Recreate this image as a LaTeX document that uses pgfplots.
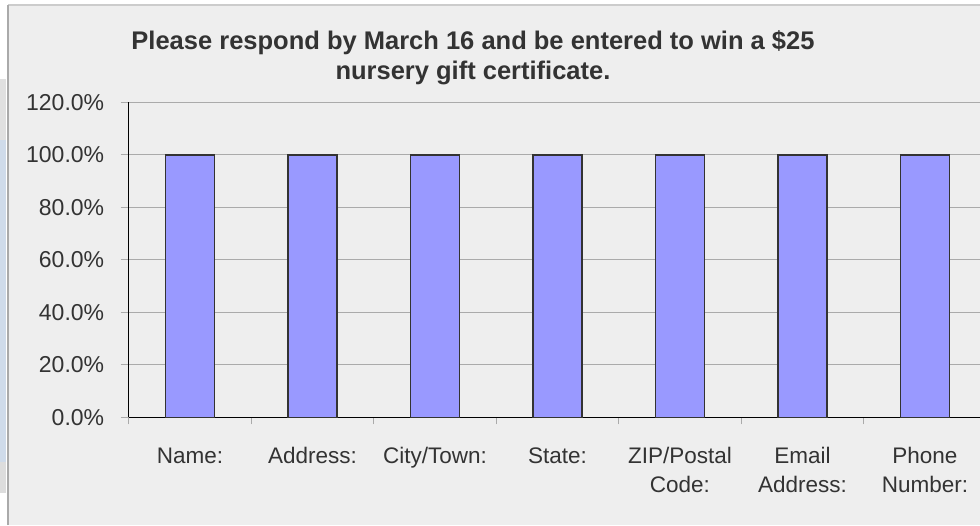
\documentclass[border=0pt]{standalone}
\usepackage{pgfplots}
\pgfplotsset{compat=1.18}
\usepackage{fontspec}
\setmainfont{Liberation Sans}
\definecolor{chartbg}{HTML}{EEEEEE}
\definecolor{barfill}{HTML}{9999FF}
\definecolor{barline}{HTML}{333333}
\definecolor{gridc}{HTML}{AAAAAA}
\definecolor{txt}{HTML}{333333}
\definecolor{stripa}{HTML}{E0E0E0}
\definecolor{stripb}{HTML}{CFDBEA}
\definecolor{stripc}{HTML}{DDDDDD}
\definecolor{bordtop}{HTML}{CCCCCC}
\definecolor{bordleft}{HTML}{AAAAAA}
\begin{document}
\begin{tikzpicture}[x=1pt,y=1pt]
\useasboundingbox (0,0) rectangle (980,525);
\clip (0,0) rectangle (980,525);
\fill[white] (0,0) rectangle (980,525);
% left strip
\fill[stripa] (0,525-140) rectangle (6,525-79);
\fill[stripb] (0,525-462) rectangle (6,525-140);
\fill[stripc] (0,525-493) rectangle (6,525-462);
% chart area
\fill[chartbg] (8,0) rectangle (985,520);
\draw[bordtop,line width=1.5] (8,520) -- (985,520);
\draw[bordleft,line width=1.5] (8,0) -- (8,520);
\begin{axis}[
  at={(128.7pt,107.7pt)}, anchor=south west,
  scale only axis, width=857.5pt, height=314.8pt,
  xmin=-0.5, xmax=6.5, ymin=0, ymax=120,
  axis lines=left, axis line style={-, black, line width=1pt},
  xtick={0,...,6},
  xticklabels={\strut Name:, \strut Address:, \strut City/Town:, \strut State:, {\strut ZIP/Postal\\Code:}, {\strut Email\\Address:}, {\strut Phone\\Number:}},
  minor xtick={-0.5,0.5,...,6.5},
  major x tick style={draw=none},
  minor x tick style={gridc, line width=1pt},
  minor tick length=7pt,
  ytick={0,20,...,120},
  major tick length=8pt,
  tick align=outside,
  y tick style={gridc, line width=1pt},
  ymajorgrids, grid style={gridc, line width=1pt},
  /pgf/number format/assume math mode=true,
  yticklabel={\pgfmathprintnumber[fixed,fixed zerofill,precision=1]{\tick}\%},
  xticklabel style={font=\fontsize{22.5}{29}\selectfont, text=txt, align=center, anchor=north, yshift=-14pt},
  yticklabel style={font=\fontsize{23}{29}\selectfont, text=txt, anchor=east, xshift=-13pt},
  clip=false,
]
\addplot[ybar, bar width=49pt, fill=barfill, draw=barline, line width=1.5pt] coordinates {
(0,100) (1,100) (2,100) (3,100) (4,100) (5,100) (6,100)};
\end{axis}
\node[anchor=base, font=\bfseries\fontsize{25.5}{29}\selectfont, text=txt] at (473,525-49.5) {Please respond by March 16 and be entered to win a \$25};
\node[anchor=base, font=\bfseries\fontsize{25.5}{29}\selectfont, text=txt] at (473,525-79.3) {nursery gift certificate.};
\end{tikzpicture}
\end{document}
